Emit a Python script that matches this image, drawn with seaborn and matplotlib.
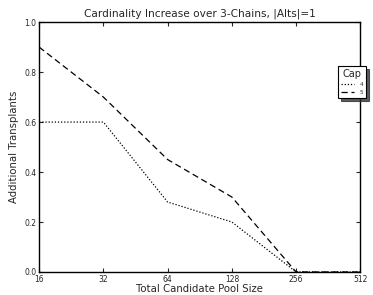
import matplotlib
matplotlib.use("Agg")
import matplotlib.pyplot as plt
import seaborn as sns
import pandas as pd

# valori
pool_sizes = [16, 32, 64, 128, 256, 512]
cap4 = [0.6, 0.6, 0.28, 0.2, 0.0, 0.0]
cap5 = [0.9, 0.7, 0.45, 0.3, 0.0, 0.0]
caps = ["4", "5"]

df = pd.DataFrame({
    "pool": pool_sizes * 2,
    "value": cap4 + cap5,
    "Cap": [caps[0]] * len(cap4) + [caps[1]] * len(cap5),
})

sns.set_style("white", {"xtick.direction": "in", "ytick.direction": "in"})
plt.rcParams["font.family"] = ["DejaVu Sans"]

fig = plt.figure(figsize=(3.73, 2.95), dpi=100)
ax = fig.add_axes([0.105, 0.078, 0.861, 0.847])

sns.lineplot(data=df, x="pool", y="value", style="Cap", color="black",
             dashes=[(1, 1.5), (5, 3)], linewidth=0.9, ax=ax)

ax.set_xscale("log", base=2)
ax.set_xlim(16, 512)
ax.set_ylim(0, 1.0)
ax.set_xticks(pool_sizes)
ax.set_xticklabels([str(p) for p in pool_sizes])
ax.minorticks_off()
ax.set_yticks([0.0, 0.2, 0.4, 0.6, 0.8, 1.0])
ax.tick_params(labelsize=5.5, length=3, width=0.8, direction="in",
               top=True, right=True, bottom=True, left=True, pad=2)
for s in ax.spines.values():
    s.set_color("black")
    s.set_linewidth(1.0)

ax.set_title("Cardinality Increase over 3-Chains, |Alts|=1", fontsize=7.6, pad=4)
ax.set_xlabel("Total Candidate Pool Size", fontsize=7.3, labelpad=0)
ax.set_ylabel("Additional Transplants", fontsize=7.3, labelpad=4)

leg = ax.legend(title="Cap", loc="upper right", bbox_to_anchor=(1.018, 0.825),
                borderaxespad=0, fontsize=4, title_fontsize=7, frameon=True,
                shadow={"color": "0.2", "alpha": 0.8},
                fancybox=False, handlelength=2.2, borderpad=0.6,
                labelspacing=0.5, handletextpad=1.0)
leg.get_frame().set_edgecolor("black")
leg.get_frame().set_linewidth(0.8)

fig.savefig("out.png", dpi=100)
